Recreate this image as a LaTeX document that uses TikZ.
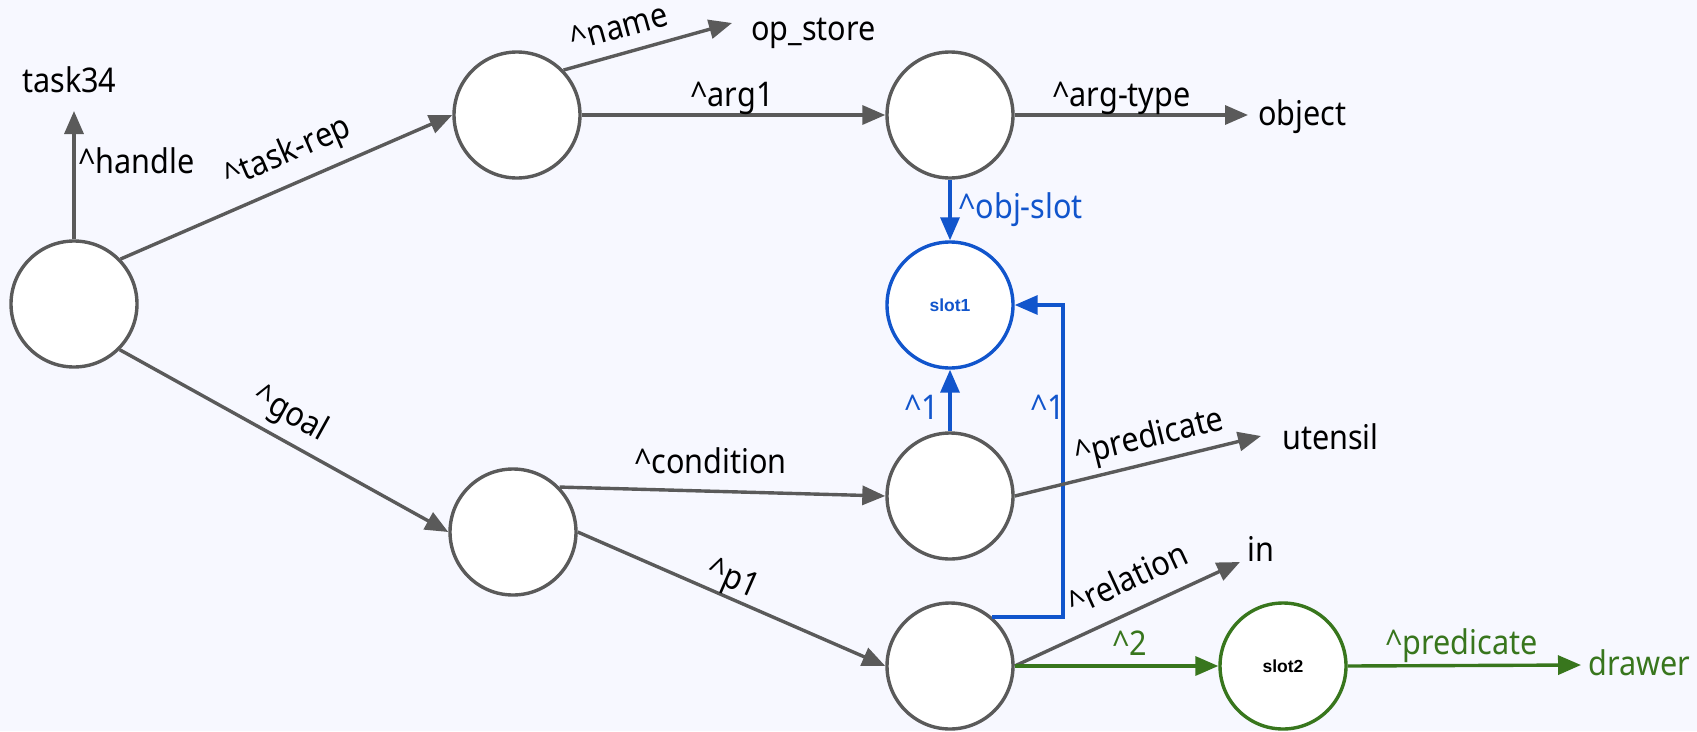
\documentclass[tikz,border=0pt]{standalone}
\usepackage{fontspec}
\setmainfont{Noto Sans}[FakeStretch=0.9]
\newfontfamily\slotfont{Liberation Sans}
\usetikzlibrary{arrows.meta}
\definecolor{bgc}{RGB}{247,248,255}
\definecolor{gr}{RGB}{90,90,90}
\definecolor{bl}{HTML}{1155CC}
\definecolor{gn}{HTML}{38761D}
\begin{document}
\begin{tikzpicture}[x=1pt,y=-1pt,
  state/.style={circle, draw=gr, line width=3.4pt, fill=white, minimum size=126pt, inner sep=0pt},
  slt/.style={font=\slotfont\bfseries\fontsize{17.5}{20}\selectfont},
  lbl/.style={font=\fontsize{34}{40}\selectfont, inner sep=0pt, text=black},
  arr/.style={line width=3.4pt, draw=gr, -{Triangle[length=23pt,width=19pt]}},
  arrb/.style={arr, draw=bl},
  arrg/.style={arr, draw=gn}]
\path[use as bounding box, fill=bgc] (0,0) rectangle (1697,731);

% state nodes
\node[state] (root) at (74,304) {};
\node[state] (A) at (517,115) {};
\node[state] (B) at (950,115) {};
\node[state, draw=bl, text=bl, slt] (slot1) at (950,305) {slot1};
\node[state] (C) at (950,496) {};
\node[state] (D) at (513,532) {};
\node[state] (E) at (950,666) {};
\node[state, draw=gn, text=black, slt] (slot2) at (1283,666) {slot2};

% value texts
\node[lbl, anchor=base west] (task34) at (22,92) {task34};
\node[lbl, anchor=base west] (opstore) at (751,40) {op\_store};
\node[lbl, anchor=base west] (object) at (1258,125) {object};
\node[lbl, anchor=base west] (utensil) at (1282,449) {utensil};
\node[lbl, anchor=base west] (in) at (1247,561) {in};
\node[lbl, anchor=base west, text=gn] (drawer) at (1588,675) {drawer};

% arrow tip coordinates next to value texts
\coordinate (t34tip) at (74,111);
\coordinate (opstip) at (732,23);
\coordinate (objtip) at (1248,115);
\coordinate (utetip) at (1261,436);
\coordinate (intip) at (1240,562);
\coordinate (drwtip) at (1581,665);
\coordinate (bcorner) at (1063,305);

% edges
\draw[arr] (root.north) -- (t34tip);
\node[lbl, anchor=base west] (lhandle) at (78,173) {\textasciicircum handle};

\draw[arr] (root.44) -- node[lbl, sloped, anchor=base, pos=0.54, yshift=21pt] (ltaskrep) {\textasciicircum task-rep} (A.west);
\draw[arr] (root.-45) -- node[lbl, sloped, anchor=base, pos=0.48, yshift=17pt] (lgoal) {\textasciicircum goal} (D.west);

\draw[arr] (A.44) -- node[lbl, sloped, anchor=base, pos=0.37, yshift=15pt] (lname) {\textasciicircum name} (opstip);
\draw[arr] (A.east) -- (B.west);
\node[lbl, anchor=base west] (larg1) at (690,106) {\textasciicircum arg1};

\draw[arr] (B.east) -- (objtip);
\node[lbl, anchor=base west] (largtype) at (1052,106) {\textasciicircum arg-type};

\draw[arrb] (B.south) -- (slot1.north);
\node[lbl, anchor=base west, text=bl] (lobjslot) at (958,218) {\textasciicircum obj-slot};

\draw[arr] (D.44) -- (C.west);
\node[lbl, anchor=base west] (lcond) at (634,473) {\textasciicircum condition};

\draw[arr] (D.east) -- node[lbl, sloped, anchor=base, pos=0.48, yshift=9pt] (lp1) {\textasciicircum p1} (E.west);

\draw[arrb] (C.north) -- (slot1.south);
\node[lbl, anchor=base west, text=bl] (lone) at (904,419) {\textasciicircum 1};

\draw[arrb] (E.49) -| (bcorner) -- (slot1.east);
\node[lbl, anchor=base west, text=bl] (ltwo) at (1030,419) {\textasciicircum 1};

\draw[arr] (C.east) -- node[lbl, sloped, anchor=base, pos=0.57, yshift=15pt] (lpred) {\textasciicircum predicate} (utetip);
\draw[arr] (E.east) -- node[lbl, sloped, anchor=base, pos=0.56, yshift=20pt] (lrel) {\textasciicircum relation} (intip);

\draw[arrg] (E.east) -- (slot2.west);
\node[lbl, anchor=base west, text=gn] (lslot2) at (1112,655) {\textasciicircum 2};

\draw[arrg] (slot2.east) -- (drwtip);
\node[lbl, anchor=base west, text=gn] (lpredg) at (1385,654) {\textasciicircum predicate};
\end{tikzpicture}
\end{document}
